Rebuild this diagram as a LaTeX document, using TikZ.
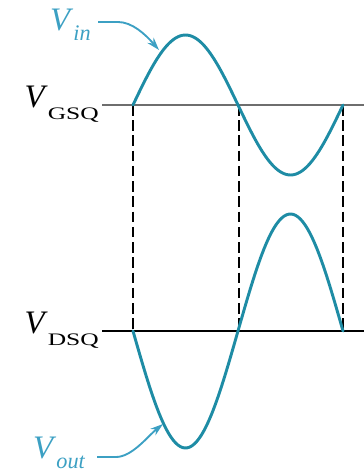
\documentclass[tikz,border=0pt]{standalone}
\usepackage{graphicx}
\usepackage{fontspec}
\setmainfont{Liberation Serif}
\usetikzlibrary{arrows.meta}

\definecolor{wavecol}{RGB}{30,140,165}
\definecolor{labcol}{RGB}{60,160,195}
\definecolor{gsqcol}{RGB}{110,110,110}

% V with upright wide subscript, V with italic subscript
\newcommand{\qlab}[2]{\textit{#1}\raisebox{-0.8ex}{\fontsize{15}{15}\selectfont\scalebox{1.45}[1]{#2}}}
\newcommand{\ilab}[2]{\textit{#1}\raisebox{-0.7ex}{\fontsize{19}{19}\selectfont\textit{#2}}}

\begin{document}
\begin{tikzpicture}[x=0.03cm, y=-0.03cm,
    wave/.style={wavecol, line width=2.5pt, line cap=round},
    qline/.style={line width=1.7pt},
    guide/.style={line width=1.5pt, dash pattern=on 9pt off 4pt},
    lbl/.style={inner sep=0pt, font=\fontsize{28}{30}\selectfont},
    lblarrow/.style={labcol, line width=1.6pt, -{Stealth[length=11pt, width=7pt]}}]
    \useasboundingbox (0,0) rectangle (364,473);

    % Ruhepunkte
    \node[lbl, anchor=base east] (vgsq) at (99,107) {\qlab{V}{GSQ}};
    \node[lbl, anchor=base east] (vdsq) at (99,333) {\qlab{V}{DSQ}};
    \draw[qline, gsqcol] (vgsq.east |- 0,105) ++(3,0) -- (364,105);
    \draw[qline] (vdsq.east |- 0,331) ++(3,0) -- (364,331);

    % Hilfslinien
    \foreach \xg in {133,239,343}
        \draw[guide] (\xg,105) -- (\xg,331);

    % Eingang und Ausgang
    \draw[wave] plot[domain=133:343, samples=90, smooth] (\x, {105-70*sin((\x-133)/105*180)});
    \draw[wave] plot[domain=133:343, samples=90, smooth] (\x, {331+117*sin((\x-133)/105*180)});

    % Beschriftungen
    \node[lbl, labcol, anchor=base west] (vin) at (50,30) {\ilab{V}{in}};
    \node[lbl, labcol, anchor=base west] (vout) at (33,458) {\ilab{V}{out}};
    \coordinate (tipin) at (159,50);
    \coordinate (tipout) at (163,424);
    \draw[lblarrow] (98,22) -- (118,22) .. controls (132,22) and (145,34) .. (tipin);
    \draw[lblarrow] (97,457) -- (116,457) .. controls (132,457) and (148,436) .. (tipout);
\end{tikzpicture}
\end{document}
